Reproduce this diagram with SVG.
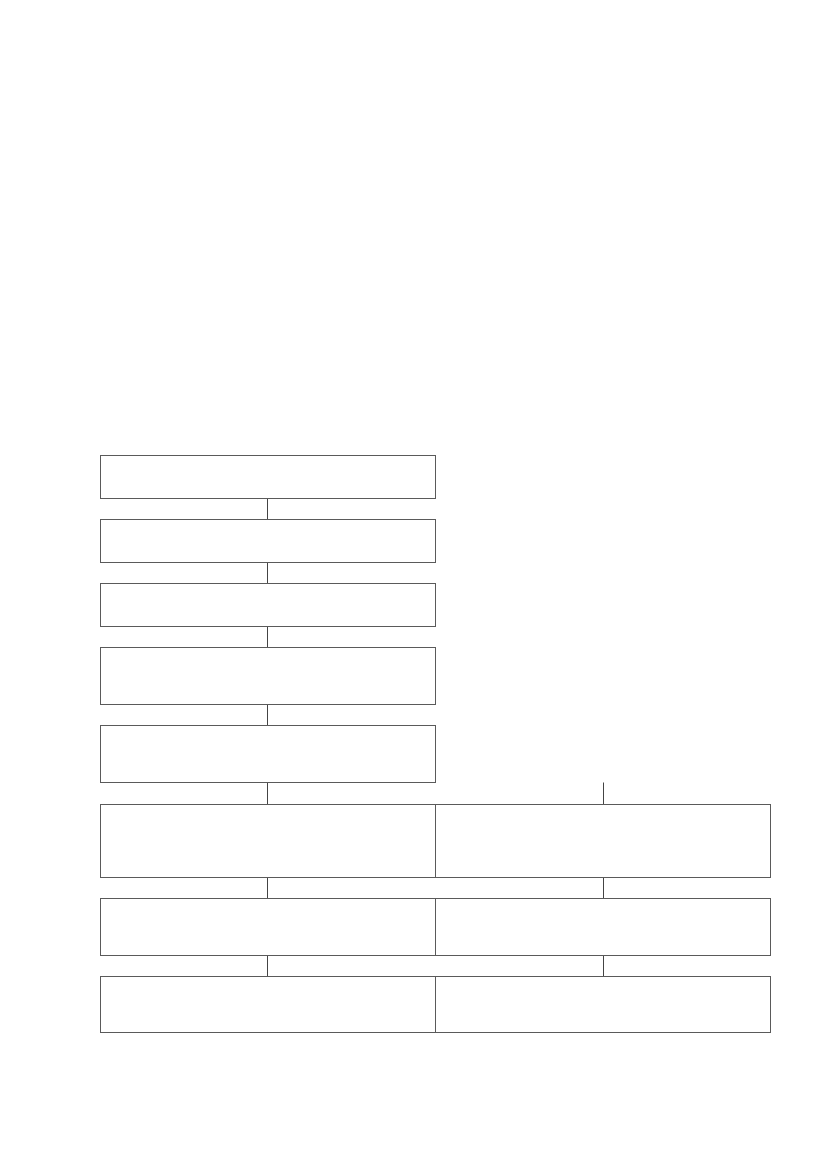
<svg xmlns="http://www.w3.org/2000/svg" width="827" height="1169" viewBox="0 0 827 1169">
<style>
.box{fill:#ffffff;stroke:#5a5a5a;stroke-width:1}
.conn{stroke:#444444;stroke-width:1;fill:none}
</style>
<rect width="827" height="1169" fill="#ffffff"/>
<g id="connectors">
<line class="conn" x1="267.5" y1="498.5" x2="267.5" y2="519.5"/>
<line class="conn" x1="267.5" y1="562.5" x2="267.5" y2="583.5"/>
<line class="conn" x1="267.5" y1="626.5" x2="267.5" y2="647.5"/>
<line class="conn" x1="267.5" y1="704.5" x2="267.5" y2="725.5"/>
<line class="conn" x1="267.5" y1="782.5" x2="267.5" y2="804.5"/>
<line class="conn" x1="603.5" y1="782.5" x2="603.5" y2="804.5"/>
<line class="conn" x1="267.5" y1="877.5" x2="267.5" y2="898.5"/>
<line class="conn" x1="603.5" y1="877.5" x2="603.5" y2="898.5"/>
<line class="conn" x1="267.5" y1="955.5" x2="267.5" y2="976.5"/>
<line class="conn" x1="603.5" y1="955.5" x2="603.5" y2="976.5"/>
</g>
<g id="node1"><rect class="box" x="100.5" y="455.5" width="335" height="43"/></g>
<g id="node2"><rect class="box" x="100.5" y="519.5" width="335" height="43"/></g>
<g id="node3"><rect class="box" x="100.5" y="583.5" width="335" height="43"/></g>
<g id="node4"><rect class="box" x="100.5" y="647.5" width="335" height="57"/></g>
<g id="node5"><rect class="box" x="100.5" y="725.5" width="335" height="57"/></g>
<g id="node6a"><rect class="box" x="100.5" y="804.5" width="335" height="73"/></g>
<g id="node6b"><rect class="box" x="435.5" y="804.5" width="335" height="73"/></g>
<g id="node7a"><rect class="box" x="100.5" y="898.5" width="335" height="57"/></g>
<g id="node7b"><rect class="box" x="435.5" y="898.5" width="335" height="57"/></g>
<g id="node8a"><rect class="box" x="100.5" y="976.5" width="335" height="56"/></g>
<g id="node8b"><rect class="box" x="435.5" y="976.5" width="335" height="56"/></g>
</svg>
